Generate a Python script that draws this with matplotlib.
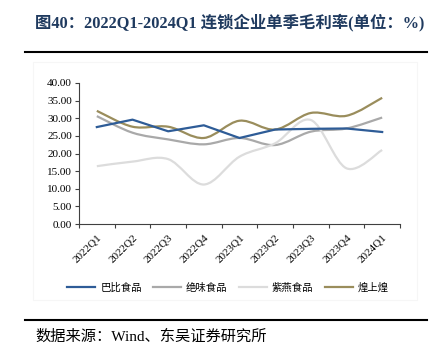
import matplotlib
matplotlib.use("Agg")
import matplotlib.pyplot as plt
from matplotlib.lines import Line2D
from matplotlib.patches import PathPatch, Rectangle
from matplotlib.path import Path
from matplotlib.ticker import FixedLocator, FormatStrFormatter

plt.rcParams["font.family"] = ["Liberation Serif", "Noto Sans CJK SC", "DejaVu Sans"]

# data
quarters = ["2022Q1", "2022Q2", "2022Q3", "2022Q4", "2023Q1",
            "2023Q2", "2023Q3", "2023Q4", "2024Q1"]
babi = [27.5, 29.6, 26.3, 28.0, 24.4, 26.8, 27.0, 27.1, 26.1]
juewei = [30.6, 25.9, 24.0, 22.6, 24.4, 22.4, 26.2, 27.1, 30.2]
ziyan = [16.4, 17.7, 18.4, 11.2, 19.1, 22.9, 29.5, 15.8, 21.0]
huangshanghuang = [32.1, 27.6, 27.6, 24.4, 29.3, 26.8, 31.5, 30.7, 35.8]

names = ["巴比食品", "绝味食品", "紫燕食品", "煌上煌"]
colors = ["#2E5C97", "#A9A9A9", "#DCDCDC", "#9A8D5C"]
smooth = [False, True, True, True]


def smooth_path(xs, ys):
    # Excel-style smoothed line: cubic bezier through every point
    pts = list(zip(xs, ys))
    n = len(pts)
    verts = [pts[0]]
    codes = [Path.MOVETO]
    for i in range(n - 1):
        p0 = pts[i - 1] if i > 0 else pts[i]
        p1 = pts[i]
        p2 = pts[i + 1]
        p3 = pts[i + 2] if i + 2 < n else pts[i + 1]
        c1 = (p1[0] + (p2[0] - p0[0]) / 6, p1[1] + (p2[1] - p0[1]) / 6)
        c2 = (p2[0] - (p3[0] - p1[0]) / 6, p2[1] - (p3[1] - p1[1]) / 6)
        verts += [c1, c2, p2]
        codes += [Path.CURVE4] * 3
    return Path(verts, codes)


fig = plt.figure(figsize=(4.38, 3.56), dpi=100)
W, H = 438, 356

# faint chart frame
fig.patches.append(Rectangle((33 / W, 1 - 300 / H), 384 / W, 238 / H,
                             transform=fig.transFigure, fill=False,
                             edgecolor="#F6F6F6", linewidth=0.8))

ax = fig.add_axes([79 / W, 1 - 224 / H, 321 / W, 141 / H])
x = list(range(len(quarters)))
series = [babi, juewei, ziyan, huangshanghuang]
for vals, c, sm in zip(series, colors, smooth):
    if sm:
        ax.add_patch(PathPatch(smooth_path(x, vals), fill=False,
                               edgecolor=c, linewidth=1.6, capstyle="butt"))
    else:
        ax.plot(x, vals, color=c, linewidth=1.6)

ax.set_xlim(-0.5, len(quarters) - 0.5)
ax.set_ylim(0, 40)
ax.set_yticks(range(0, 41, 5))
ax.yaxis.set_major_formatter(FormatStrFormatter("%.2f"))
ax.set_xticks(x)
ax.set_xticklabels(quarters, rotation=45, ha="right", va="top",
                   rotation_mode="anchor")
ax.xaxis.set_minor_locator(FixedLocator([i - 0.5 for i in range(len(quarters) + 1)]))
ax.tick_params(axis="x", which="major", length=0, pad=6, labelsize=8)
ax.tick_params(axis="x", which="minor", length=3, width=0.8, color="#404040")
ax.tick_params(axis="y", length=3, width=0.8, color="#404040", labelsize=8, pad=2)
for side in ["top", "right"]:
    ax.spines[side].set_visible(False)
for side in ["left", "bottom"]:
    ax.spines[side].set_color("#404040")
    ax.spines[side].set_linewidth(0.8)

handles = [Line2D([], [], color=c, linewidth=1.6) for c in colors]
fig.legend(handles, names, loc="center", bbox_to_anchor=(228 / W, 1 - 288 / H),
           ncol=4, frameon=False, handlelength=2.7, handletextpad=0.45,
           columnspacing=1.1, prop={"family": ["Noto Sans CJK SC"], "size": 7.5})

fig.text(35 / W, 1 - 22 / H, "图40：2022Q1-2024Q1 连锁企业单季毛利率(单位：%)",
         ha="left", va="center", fontsize=11.8, fontweight="bold", color="#1F3A5F")
fig.add_artist(Line2D([25 / W, 427 / W], [1 - 52 / H, 1 - 52 / H],
                      transform=fig.transFigure, color="black", linewidth=1.5))
fig.add_artist(Line2D([25 / W, 427 / W], [1 - 320 / H, 1 - 320 / H],
                      transform=fig.transFigure, color="black", linewidth=1.5))
fig.text(35 / W, 1 - 337 / H, "数据来源：Wind、东吴证券研究所",
         ha="left", va="center", fontsize=11, color="black")

fig.savefig("out.png", dpi=100)
